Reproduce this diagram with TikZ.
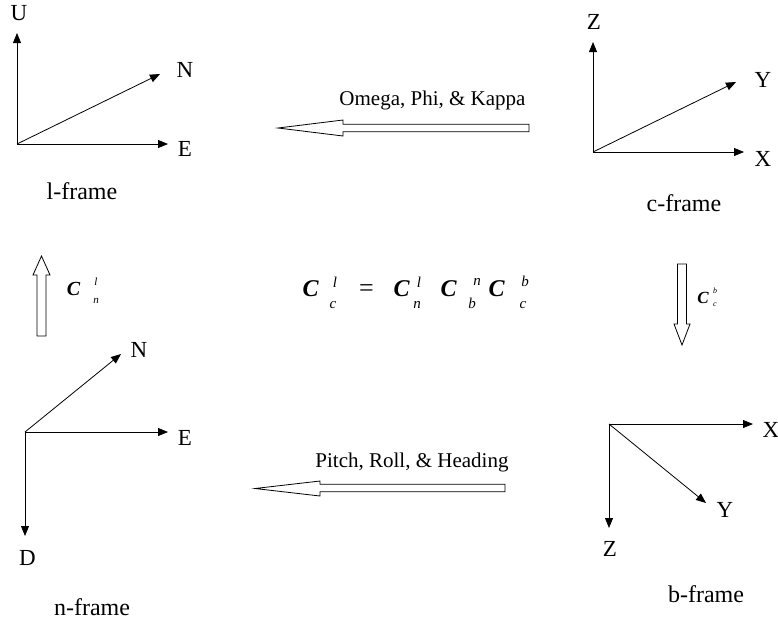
\documentclass[tikz,border=0pt]{standalone}
\usepackage{fontspec}
\setmainfont{Liberation Serif}
\usetikzlibrary{arrows.meta}
\begin{document}
\begin{tikzpicture}[x=1pt,y=-1pt,
  axis/.style={line width=0.8pt,-{Triangle[length=10pt,width=8pt]}},
  lbl/.style={font=\fontsize{23}{26}\selectfont,inner sep=0pt},
  flbl/.style={font=\fontsize{24}{28}\selectfont,inner sep=0pt},
  albl/.style={font=\fontsize{21}{24}\selectfont,inner sep=0pt},
  hollow/.style={draw,line width=0.8pt,fill=white,line join=miter},
  bigC/.style={font=\fontsize{24}{26}\selectfont\bfseries\itshape,inner sep=0pt},
  scr/.style={font=\fontsize{15}{17}\selectfont\itshape,inner sep=0pt},
  midC/.style={font=\fontsize{20}{22}\selectfont\bfseries\itshape,inner sep=0pt},
  tscr/.style={font=\fontsize{11}{13}\selectfont\itshape,inner sep=0pt},
  smallC/.style={font=\fontsize{17}{20}\selectfont\bfseries\itshape,inner sep=0pt},
  xscr/.style={font=\fontsize{8}{10}\selectfont\itshape,inner sep=0pt}]
\useasboundingbox (0,0) rectangle (778,625);

% ---------- l-frame ----------
\coordinate (lO) at (17,144);
\coordinate (lU) at (17,33);
\coordinate (lN) at (160,74);
\coordinate (lE) at (168,144);
\draw[axis] (lO) -- (lU);
\draw[axis] (lO) -- (lN);
\draw[axis] (lO) -- (lE);
\node[lbl] (lUt) at (19,13) {U};
\node[lbl] (lNt) at (185,70) {N};
\node[lbl] (lEt) at (185,149) {E};
\node[flbl] (lframe) at (82,191) {l-frame};

% ---------- c-frame ----------
\coordinate (cO) at (593,152);
\coordinate (cZ) at (593,42);
\coordinate (cY) at (736,82);
\coordinate (cX) at (744,152);
\draw[axis] (cO) -- (cZ);
\draw[axis] (cO) -- (cY);
\draw[axis] (cO) -- (cX);
\node[lbl] (cZt) at (594,21.5) {Z};
\node[lbl] (cYt) at (763,79.5) {Y};
\node[lbl] (cXt) at (763,158.5) {X};
\node[flbl] (cframe) at (684,203) {c-frame};

% ---------- n-frame ----------
\coordinate (nO) at (25,432);
\coordinate (nN) at (121,354);
\coordinate (nE) at (168,432);
\coordinate (nD) at (25,536);
\draw[axis] (nO) -- (nN);
\draw[axis] (nO) -- (nE);
\draw[axis] (nO) -- (nD);
\node[lbl] (nNt) at (139,350) {N};
\node[lbl] (nEt) at (185,437.5) {E};
\node[lbl] (nDt) at (27.5,557.5) {D};
\node[flbl] (nframe) at (92,607) {n-frame};

% ---------- b-frame ----------
\coordinate (bO) at (609,424);
\coordinate (bX) at (753,424);
\coordinate (bY) at (706,503);
\coordinate (bZ) at (609,528);
\draw[axis] (bO) -- (bX);
\draw[axis] (bO) -- (bY);
\draw[axis] (bO) -- (bZ);
\node[lbl] (bXt) at (771,430) {X};
\node[lbl] (bYt) at (725,509.5) {Y};
\node[lbl] (bZt) at (610,548.5) {Z};
\node[flbl] (bframe) at (706,594) {b-frame};

% ---------- hollow transfer arrows ----------
\draw[hollow] (529,124.3) -- (343,124.3) -- (343,120) -- (278,128) -- (343,136) -- (343,131.7) -- (529,131.7) -- cycle;
\node[albl] (omega) at (432.5,100) {Omega, Phi, \& Kappa};

\draw[hollow] (505,484.3) -- (320,484.3) -- (320,481) -- (255,488.5) -- (320,496) -- (320,491.7) -- (505,491.7) -- cycle;
\node[albl] (pitch) at (412,462) {Pitch, Roll, \& Heading};

\draw[hollow] (37,336) -- (37,275) -- (33,275) -- (41.5,256) -- (50,275) -- (46,275) -- (46,336) -- cycle;
\draw[hollow] (677.5,264) -- (677.5,324) -- (674,324) -- (682,345) -- (690,324) -- (686.5,324) -- (686.5,264) -- cycle;

% ---------- rotation matrix labels ----------
\node[midC] (Cnl) at (73.5,288.5) {C};
\node[tscr] (Cnlsup) at (96,282) {l};
\node[tscr] (Cnlsub) at (96,301) {n};

\node[smallC] (Ccb) at (703,298) {C};
\node[xscr] (Ccbsup) at (715,291) {b};
\node[xscr] (Ccbsub) at (715,305) {c};

% ---------- equation ----------
\node[bigC] (e1) at (310.5,289) {C};
\node[scr] (e1sup) at (335,282) {l};
\node[scr] (e1sub) at (333,305) {c};
\node[font=\fontsize{26}{28}\selectfont,inner sep=0pt] (eq) at (366.5,291) {=};
\node[bigC] (e2) at (401.5,289) {C};
\node[scr] (e2sup) at (419,282) {l};
\node[scr] (e2sub) at (417,305) {n};
\node[bigC] (e3) at (448.5,289) {C};
\node[scr] (e3sup) at (477,282) {n};
\node[scr] (e3sub) at (472,303) {b};
\node[bigC] (e4) at (496.5,289) {C};
\node[scr] (e4sup) at (525,281) {b};
\node[scr] (e4sub) at (523,305) {c};
\end{tikzpicture}
\end{document}
